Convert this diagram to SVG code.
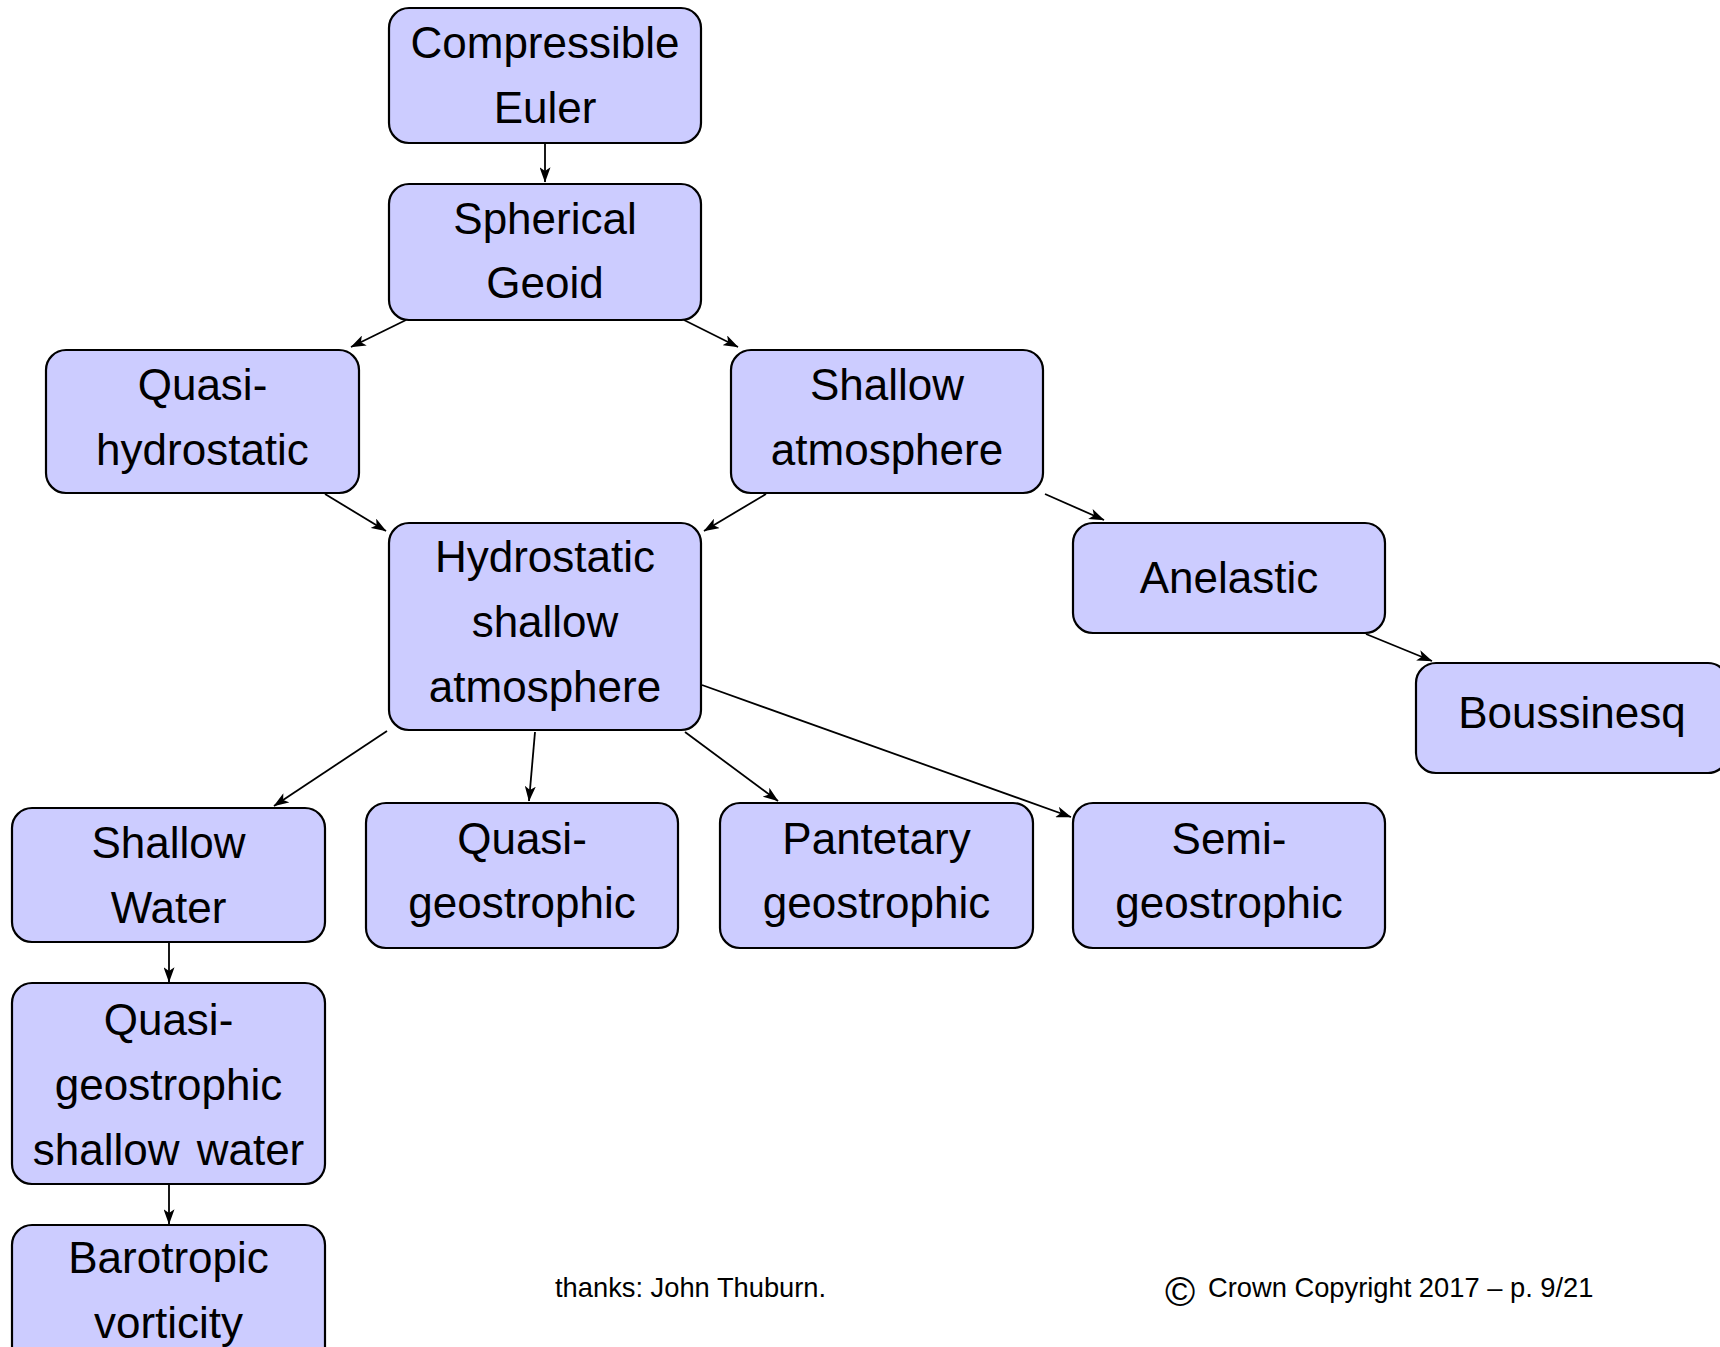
<svg xmlns="http://www.w3.org/2000/svg" width="1720" height="1347" viewBox="0 0 1720 1347">
<style>
.box{fill:#ccccff;stroke:#000;stroke-width:2.2}
.t{font-family:"Liberation Sans",Arial,Helvetica,sans-serif;font-size:44px;fill:#000;text-anchor:middle}
.f{font-family:"Liberation Sans",Arial,Helvetica,sans-serif;font-size:27.3px;fill:#000}
.c{fill:none;stroke:#000;stroke-width:1.8;marker-end:url(#ah)}
</style>
<defs>
<marker id="ah" viewBox="0 0 14 10" refX="13.5" refY="5" markerWidth="15.5" markerHeight="11" markerUnits="userSpaceOnUse" orient="auto">
<path d="M0,0 L14,5 L0,10 L3.5,5 z" fill="#000"/>
</marker>
</defs>
<rect width="1720" height="1347" fill="#fff"/>
<g id="connectors">
<line class="c" x1="545" y1="143" x2="545" y2="182"/>
<line class="c" x1="406" y1="320" x2="351" y2="347"/>
<line class="c" x1="684" y1="320" x2="738" y2="347"/>
<line class="c" x1="325" y1="494" x2="386" y2="531"/>
<line class="c" x1="766" y1="494" x2="704" y2="531"/>
<line class="c" x1="1045" y1="494" x2="1104" y2="520"/>
<line class="c" x1="1366" y1="634" x2="1432" y2="661"/>
<line class="c" x1="387" y1="731" x2="274" y2="806"/>
<line class="c" x1="535" y1="732" x2="529" y2="801"/>
<line class="c" x1="685" y1="732" x2="778" y2="801"/>
<line class="c" x1="702" y1="685" x2="1071" y2="817"/>
<line class="c" x1="169" y1="942" x2="169" y2="982"/>
<line class="c" x1="169" y1="1184" x2="169" y2="1224"/>
</g>
<g id="n-compressible">
<rect class="box" x="389" y="8" width="312" height="135" rx="20"/>
<text class="t" x="545" y="58">Compressible</text>
<text class="t" x="545" y="123">Euler</text>
</g>
<g id="n-spherical">
<rect class="box" x="389" y="184" width="312" height="136" rx="20"/>
<text class="t" x="545" y="234">Spherical</text>
<text class="t" x="545" y="298">Geoid</text>
</g>
<g id="n-quasihydro">
<rect class="box" x="46" y="350" width="313" height="143" rx="20"/>
<text class="t" x="202.5" y="400">Quasi-</text>
<text class="t" x="202.5" y="465">hydrostatic</text>
</g>
<g id="n-shallowatm">
<rect class="box" x="731" y="350" width="312" height="143" rx="20"/>
<text class="t" x="887" y="400">Shallow</text>
<text class="t" x="887" y="465">atmosphere</text>
</g>
<g id="n-hydrostatic">
<rect class="box" x="389" y="523" width="312" height="207" rx="20"/>
<text class="t" x="545" y="572">Hydrostatic</text>
<text class="t" x="545" y="637">shallow</text>
<text class="t" x="545" y="702">atmosphere</text>
</g>
<g id="n-anelastic">
<rect class="box" x="1073" y="523" width="312" height="110" rx="20"/>
<text class="t" x="1229" y="593">Anelastic</text>
</g>
<g id="n-boussinesq">
<rect class="box" x="1416" y="663" width="312" height="110" rx="20"/>
<text class="t" x="1572" y="728">Boussinesq</text>
</g>
<g id="n-shallowwater">
<rect class="box" x="12" y="808" width="313" height="134" rx="20"/>
<text class="t" x="168.5" y="858">Shallow</text>
<text class="t" x="168.5" y="923">Water</text>
</g>
<g id="n-qg">
<rect class="box" x="366" y="803" width="312" height="145" rx="20"/>
<text class="t" x="522" y="854">Quasi-</text>
<text class="t" x="522" y="918">geostrophic</text>
</g>
<g id="n-pg">
<rect class="box" x="720" y="803" width="313" height="145" rx="20"/>
<text class="t" x="876.5" y="854">Pantetary</text>
<text class="t" x="876.5" y="918">geostrophic</text>
</g>
<g id="n-sg">
<rect class="box" x="1073" y="803" width="312" height="145" rx="20"/>
<text class="t" x="1229" y="854">Semi-</text>
<text class="t" x="1229" y="918">geostrophic</text>
</g>
<g id="n-qgsw">
<rect class="box" x="12" y="983" width="313" height="201" rx="20"/>
<text class="t" x="168.5" y="1035">Quasi-</text>
<text class="t" x="168.5" y="1100">geostrophic</text>
<text class="t" x="168.5" y="1165" style="word-spacing:5px">shallow water</text>
</g>
<g id="n-barotropic">
<rect class="box" x="12" y="1225" width="313" height="200" rx="20"/>
<text class="t" x="168.5" y="1273">Barotropic</text>
<text class="t" x="168.5" y="1338">vorticity</text>
</g>
<g id="footer">
<text class="f" x="555" y="1297">thanks: John Thuburn.</text>
<text class="f" x="1165" y="1306" style="font-size:41px">©</text>
<text class="f" x="1208" y="1297">Crown Copyright 2017 – p. 9/21</text>
</g>
</svg>
